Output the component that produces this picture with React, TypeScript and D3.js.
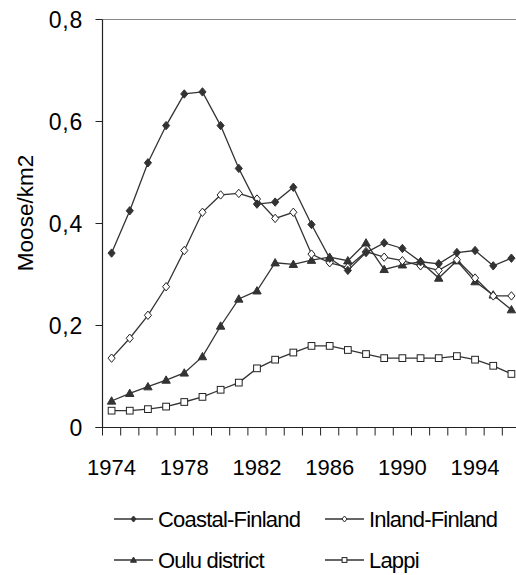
import React from "react";
import * as d3 from "d3";

const years = d3.range(1974, 1997).map(String);
const tickYears = ["1974", "1978", "1982", "1986", "1990", "1994"];
const yTicks = [0, 0.2, 0.4, 0.6, 0.8];

const coastal = [0.342, 0.425, 0.519, 0.592, 0.654, 0.658, 0.592, 0.508, 0.438, 0.442, 0.471, 0.398, 0.332, 0.308, 0.343, 0.362, 0.351, 0.325, 0.321, 0.343, 0.347, 0.317, 0.332];
const inland = [0.136, 0.175, 0.220, 0.276, 0.347, 0.422, 0.456, 0.459, 0.448, 0.410, 0.422, 0.340, 0.323, 0.314, 0.345, 0.334, 0.327, 0.317, 0.308, 0.329, 0.293, 0.258, 0.258];
const oulu = [0.052, 0.067, 0.080, 0.093, 0.107, 0.139, 0.199, 0.252, 0.268, 0.323, 0.320, 0.328, 0.334, 0.327, 0.362, 0.310, 0.319, 0.325, 0.293, 0.327, 0.286, 0.260, 0.231];
const lappi = [0.033, 0.033, 0.036, 0.041, 0.050, 0.060, 0.074, 0.088, 0.116, 0.133, 0.147, 0.160, 0.160, 0.152, 0.144, 0.136, 0.136, 0.136, 0.136, 0.140, 0.133, 0.121, 0.105];

const seriesNames = ["Coastal-Finland", "Inland-Finland", "Oulu district", "Lappi"];

const FONT = "'Liberation Sans', Arial, sans-serif";
const LINE = "#333";

type Kind = "diamondFilled" | "diamondOpen" | "triangle" | "square";

function Marker({ kind, x, y, s }: { kind: Kind; x: number; y: number; s: number }) {
  if (kind === "diamondFilled" || kind === "diamondOpen") {
    const w = s * 0.85;
    const h = s;
    const d = `M${x},${y - h}L${x + w},${y}L${x},${y + h}L${x - w},${y}Z`;
    return (
      <path d={d} fill={kind === "diamondFilled" ? LINE : "#fff"} stroke={kind === "diamondFilled" ? LINE : "#222"} strokeWidth={1} />
    );
  }
  if (kind === "triangle") {
    const d = `M${x},${y - s}L${x + s},${y + s * 0.75}L${x - s},${y + s * 0.75}Z`;
    return <path d={d} fill={LINE} stroke={LINE} strokeWidth={1} />;
  }
  const h = s * 0.8;
  return <rect x={x - h} y={y - h} width={2 * h} height={2 * h} fill="#fff" stroke="#222" strokeWidth={1} />;
}

export default function App() {
  const W = 516;
  const H = 575;
  const x0 = 102.5;
  const x1 = 520.5;
  const yTop = 19.5;
  const yBot = 427.5;

  const x = d3.scaleBand<string>().domain(years).range([x0, x1]);
  const y = d3.scaleLinear().domain([0, 0.8]).range([yBot, yTop]);
  const cx = (yr: string) => (x(yr) as number) + x.bandwidth() / 2;

  const series: { name: string; data: number[]; kind: Kind }[] = [
    { name: seriesNames[3], data: lappi, kind: "square" },
    { name: seriesNames[2], data: oulu, kind: "triangle" },
    { name: seriesNames[1], data: inland, kind: "diamondOpen" },
    { name: seriesNames[0], data: coastal, kind: "diamondFilled" },
  ];

  const line = d3
    .line<number>()
    .x((_, i) => cx(years[i]))
    .y((d) => y(d));

  const legend: { name: string; kind: Kind; lx: number; ly: number }[] = [
    { name: seriesNames[0], kind: "diamondFilled", lx: 114, ly: 519 },
    { name: seriesNames[1], kind: "diamondOpen", lx: 325, ly: 519 },
    { name: seriesNames[2], kind: "triangle", lx: 114, ly: 560 },
    { name: seriesNames[3], kind: "square", lx: 325, ly: 560 },
  ];

  return (
    <svg width={W} height={H} style={{ position: "absolute", left: 0, top: 0, background: "#fff" }} fontFamily={FONT}>
      <rect x={0} y={0} width={W} height={H} fill="#fff" />
      {/* plot frame top */}
      <line x1={x0} x2={W} y1={yTop} y2={yTop} stroke="#888" strokeWidth={1} />
      {/* y axis */}
      <line x1={x0} x2={x0} y1={yTop} y2={yBot} stroke="#222" strokeWidth={1.2} />
      {yTicks.map((t) => (
        <g key={t}>
          <line x1={x0 - 7} x2={x0} y1={y(t)} y2={y(t)} stroke="#222" strokeWidth={1} />
          <text x={83} y={y(t)} dy="0.36em" textAnchor="end" fontSize={23} fill="#000" letterSpacing={0.8}>
            {t === 0 ? "0" : d3.format(".1f")(t).replace(".", ",")}
          </text>
        </g>
      ))}
      {/* x axis */}
      <line x1={x0 - 7} x2={W} y1={yBot} y2={yBot} stroke="#222" strokeWidth={1.2} />
      {years.map((yr) => (
        <line key={yr} x1={x(yr) as number} x2={x(yr) as number} y1={yBot} y2={yBot + 8} stroke="#222" strokeWidth={1} />
      ))}
      {tickYears.map((yr) => (
        <text key={yr} x={cx(yr)} y={475} textAnchor="middle" fontSize={22} fill="#000">
          {yr}
        </text>
      ))}
      {/* y title */}
      <text transform={`translate(33,213) rotate(-90)`} textAnchor="middle" fontSize={22.5} fill="#000">
        Moose/km2
      </text>
      {/* series */}
      {series.map((s) => (
        <g key={s.name}>
          <path d={line(s.data) as string} fill="none" stroke={LINE} strokeWidth={1.3} />
          {s.data.map((v, i) => (
            <Marker key={i} kind={s.kind} x={cx(years[i])} y={y(v)} s={4.2} />
          ))}
        </g>
      ))}
      {/* legend */}
      {legend.map((l) => (
        <g key={l.name}>
          <line x1={l.lx} x2={l.lx + 39} y1={l.ly} y2={l.ly} stroke={LINE} strokeWidth={1.3} />
          <Marker kind={l.kind} x={l.lx + 19.5} y={l.ly} s={3} />
          <text x={l.lx + 44} y={l.ly + 7.5} fontSize={22} fill="#000" letterSpacing={-0.8}>
            {l.name}
          </text>
        </g>
      ))}
    </svg>
  );
}
